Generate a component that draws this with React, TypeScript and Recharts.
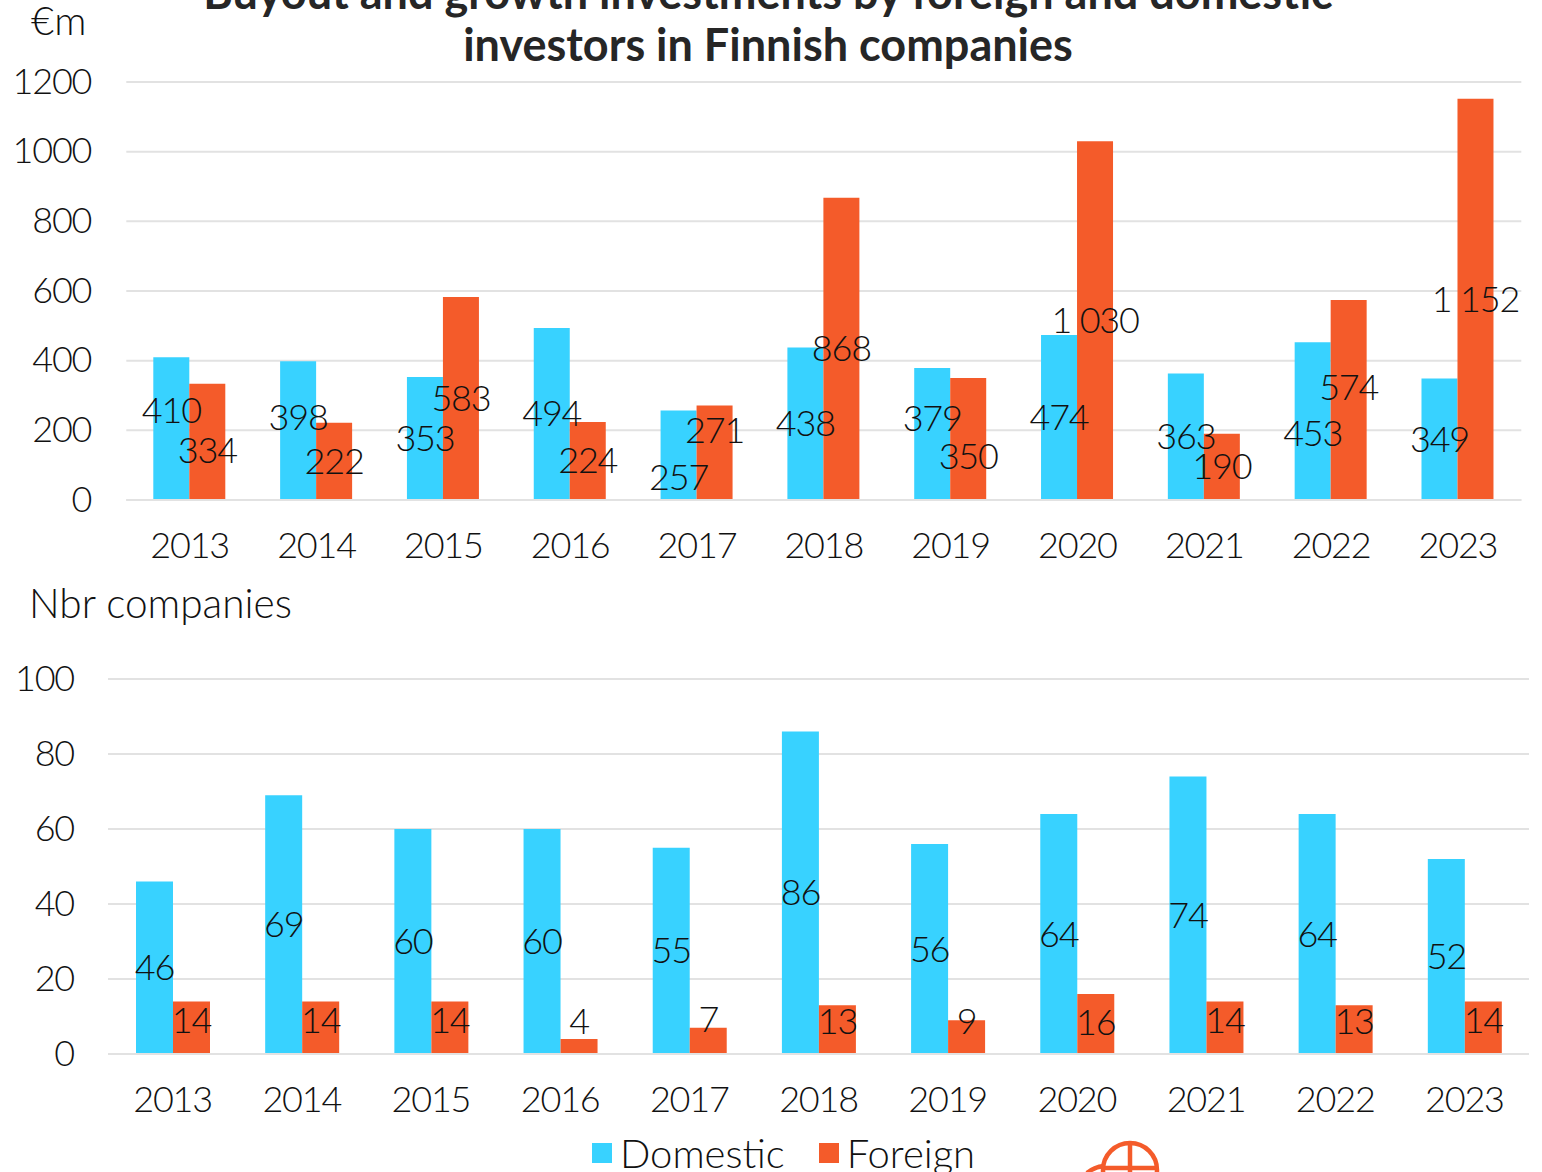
import { BarChart, Bar, XAxis, YAxis, CartesianGrid, LabelList, Legend } from "recharts";

const YEARS = ["2013", "2014", "2015", "2016", "2017", "2018", "2019", "2020", "2021", "2022", "2023"];

const AMOUNT_DOMESTIC = [410, 398, 353, 494, 257, 438, 379, 474, 363, 453, 349];
const AMOUNT_FOREIGN = [334, 222, 583, 224, 271, 868, 350, 1030, 190, 574, 1152];
const COUNT_DOMESTIC = [46, 69, 60, 60, 55, 86, 56, 64, 74, 64, 52];
const COUNT_FOREIGN = [14, 14, 14, 4, 7, 13, 9, 16, 14, 13, 14];

const AMOUNT_TICKS = [0, 200, 400, 600, 800, 1000, 1200];
const COUNT_TICKS = [0, 20, 40, 60, 80, 100];

// hand-moved labels in the original, px away from the middle of the bar
const NUDGE_AMOUNT_DOMESTIC = [-18, -13, 0, 0, 22, 0, -15, 0, 0, 12, 0];
const NUDGE_AMOUNT_FOREIGN = [9, 0, 0, 0, -22, 0, 17, 0, 0, -13, 0];
const NUDGE_COUNT_FOREIGN = [-7, -7, -7, -25, -21, -8, -16, -2, -7, -8, -7];

const BLUE = "#38d2ff";
const ORANGE = "#f45b2a";
const GRID = "#e2e2e2";
const INK = "#111";
const FONT = "Lato, sans-serif";

const amountData = YEARS.map((year, i) => ({ year, Domestic: AMOUNT_DOMESTIC[i], Foreign: AMOUNT_FOREIGN[i] }));
const countData = YEARS.map((year, i) => ({ year, Domestic: COUNT_DOMESTIC[i], Foreign: COUNT_FOREIGN[i] }));

const tickStyle = { fontSize: 36, letterSpacing: -1.2, fontWeight: 300, fill: INK, fontFamily: FONT };

const fmt = (v: number) => (v >= 1000 ? `${Math.floor(v / 1000)} ${String(v % 1000).padStart(3, "0")}` : `${v}`);

function barLabel(nudge?: number[]) {
  return (props: any) => {
    const { x, y, width, height, value, index } = props;
    return (
      <text
        x={Number(x) + Number(width) / 2}
        y={Number(y) + Number(height) / 2 - 1.5 + (nudge ? nudge[index] : 0)}
        textAnchor="middle"
        dominantBaseline="central"
        fontFamily={FONT}
        fontSize={36}
        letterSpacing={-1.2}
        fontWeight={300}
        fill={INK}
      >
        {fmt(Number(value))}
      </text>
    );
  };
}

function Globe() {
  return (
    <svg width={120} height={42} style={{ position: "absolute", left: 1060, top: 1130 }}>
      <g fill="none" stroke={ORANGE} strokeWidth={4.5}>
        <circle cx={70} cy={40} r={27} />
        <line x1={70} y1={13} x2={70} y2={42} />
        <line x1={44} y1={38} x2={96} y2={38} />
        <path d="M 27 43 Q 34 37 44 36" />
      </g>
    </svg>
  );
}

export default function App() {
  return (
    <div style={{ position: "absolute", left: 0, top: 0, width: 1542, height: 1172, overflow: "hidden", background: "#fff", fontFamily: FONT }}>
      <div style={{ position: "absolute", left: 0, width: 1536, top: -34, textAlign: "center", fontSize: 45, lineHeight: "52px", fontWeight: 700, color: "#262626", whiteSpace: "nowrap" }}>
        Buyout and growth investments by foreign and domestic
        <br />
        investors in Finnish companies
      </div>
      <div style={{ position: "absolute", left: 31, top: -4, fontSize: 40, fontWeight: 300, color: INK }}>€m</div>
      <div style={{ position: "absolute", left: 29, top: 578, fontSize: 40.6, fontWeight: 300, color: INK }}>Nbr companies</div>

      <div style={{ position: "absolute", left: 0, top: 0 }}>
        <BarChart width={1542} height={590} data={amountData} barSize={36} barGap={0} margin={{ top: 82, right: 20.7, bottom: 0, left: 0.3 }}>
          <CartesianGrid vertical={false} stroke={GRID} strokeWidth={2} />
          <XAxis dataKey="year" height={90} axisLine={{ stroke: GRID, strokeWidth: 2 }} tickLine={false} tick={tickStyle} tickMargin={26} interval={0} />
          <YAxis width={126} domain={[0, 1200]} ticks={AMOUNT_TICKS} axisLine={false} tickLine={false} tick={{ ...tickStyle, dy: -1 }} tickMargin={29} />
          <Bar dataKey="Domestic" fill={BLUE} isAnimationActive={false}>
            <LabelList dataKey="Domestic" content={barLabel(NUDGE_AMOUNT_DOMESTIC)} />
          </Bar>
          <Bar dataKey="Foreign" fill={ORANGE} isAnimationActive={false}>
            <LabelList dataKey="Foreign" content={barLabel(NUDGE_AMOUNT_FOREIGN)} />
          </Bar>
        </BarChart>
      </div>

      <div style={{ position: "absolute", left: 0, top: 640 }}>
        <BarChart width={1542} height={532} data={countData} barSize={37} barGap={0} margin={{ top: 39, right: 13, bottom: 0, left: 0 }}>
          <CartesianGrid vertical={false} stroke={GRID} strokeWidth={2} />
          <XAxis dataKey="year" height={74} axisLine={{ stroke: GRID, strokeWidth: 2 }} tickLine={false} tick={tickStyle} tickMargin={26} interval={0} />
          <YAxis width={108} domain={[0, 100]} ticks={COUNT_TICKS} axisLine={false} tickLine={false} tick={{ ...tickStyle, dy: -1 }} tickMargin={28} />
          <Legend
            iconType="square"
            iconSize={20}
            align="left"
            wrapperStyle={{ position: "absolute", left: 592, top: 484, width: 500, height: 44, fontSize: 40, fontWeight: 300 }}
            formatter={(value: string) => <span style={{ color: INK, marginLeft: 4, marginRight: 24, position: "relative", top: 5 }}>{value}</span>}
          />
          <Bar dataKey="Domestic" fill={BLUE} isAnimationActive={false}>
            <LabelList dataKey="Domestic" content={barLabel()} />
          </Bar>
          <Bar dataKey="Foreign" fill={ORANGE} isAnimationActive={false}>
            <LabelList dataKey="Foreign" content={barLabel(NUDGE_COUNT_FOREIGN)} />
          </Bar>
        </BarChart>
      </div>

      <Globe />
    </div>
  );
}
